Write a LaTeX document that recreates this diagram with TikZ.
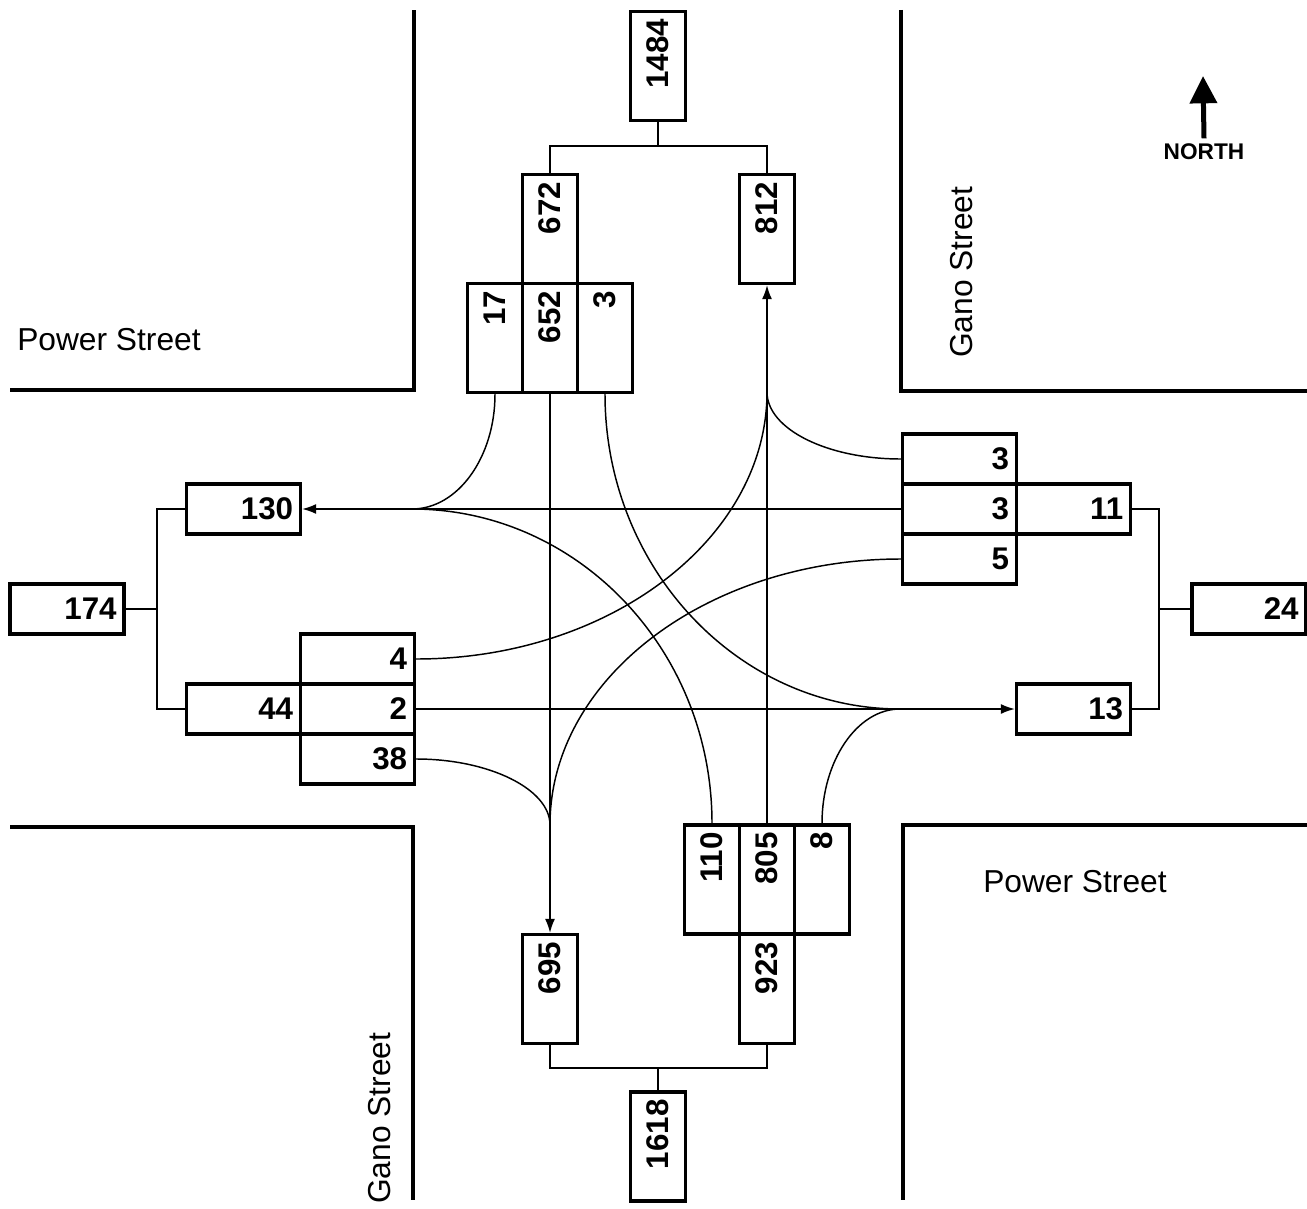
\documentclass[tikz,border=0pt]{standalone}
\usepackage{fontspec}
\setmainfont{Liberation Sans}
\usetikzlibrary{arrows.meta}
\begin{document}
\begin{tikzpicture}[x=0.75pt,y=-0.75pt,
  numfont/.style={font=\fontsize{23.5}{27}\selectfont\bfseries},
  hbox/.style={draw, line width=2.5pt, numfont, minimum width=85.5pt, minimum height=37.5pt,
    inner xsep=5.5pt, inner ysep=0pt, text width=74.5pt, align=right},
  vbox/.style={draw, line width=2.5pt, numfont, rotate=90, minimum width=81.75pt, minimum height=41.25pt,
    inner xsep=5.5pt, inner ysep=0pt, text width=70.75pt, align=right},
  flow/.style={line width=1.1pt},
  arr/.style={flow, -{Latex[length=10.5pt,width=7.5pt]}},
  link/.style={line width=1pt},
  street/.style={line width=3.2pt},
  sname/.style={font=\fontsize{23.8}{27}\selectfont, inner sep=0pt}
]
\useasboundingbox (0,0) rectangle (1307,1209);

% streets
\draw[street] (10,390) -- (414,390) -- (414,10);
\draw[street] (901,10) -- (901,391) -- (1307,391);
\draw[street] (10,827) -- (413,827) -- (413,1200);
\draw[street] (1307,825) -- (903,825) -- (903,1200);

\node[sname, anchor=base west] (pw) at (17,350) {Power Street};
\node[sname, anchor=base west] (pe) at (983,892) {Power Street};
\node[sname, rotate=90, anchor=base west] (gn) at (972,358) {Gano Street};
\node[sname, rotate=90, anchor=base west] (gs) at (390,1204) {Gano Street};

% north arrow
\node[font=\fontsize{17}{20}\selectfont\bfseries, inner sep=0pt] (north) at (1204,152) {NORTH};
\coordinate (ntip) at (1203,76);
\draw[line width=3.75pt, -{Triangle[length=20.5pt,width=20pt]}] ([yshift=4pt]north.north) -- (ntip);

% north approach
\node[vbox] (b1484) at (658,66) {1484};
\node[vbox] (b672) at (550,229) {672};
\node[vbox] (b812) at (767,229) {812};
\node[vbox] (b17) at (495,338) {17};
\node[vbox] (b652) at (550,338) {652};
\node[vbox] (bn3) at (605,338) {3};

% south approach
\node[vbox] (b110) at (712,879.5) {110};
\node[vbox] (b805) at (767,879.5) {805};
\node[vbox] (b8) at (822,879.5) {8};
\node[vbox] (b923) at (767,989) {923};
\node[vbox] (b695) at (550,989) {695};
\node[vbox] (b1618) at (658,1146.5) {1618};

% west approach
\node[hbox] (b130) at (243.5,509) {130};
\node[hbox] (b174) at (67,609) {174};
\node[hbox] (b4) at (357.5,659) {4};
\node[hbox] (b44) at (243.5,709) {44};
\node[hbox] (b2) at (357.5,709) {2};
\node[hbox] (b38) at (357.5,759) {38};

% east approach
\node[hbox] (r3a) at (959.5,459) {3};
\node[hbox] (r3b) at (959.5,509) {3};
\node[hbox] (r11) at (1073.5,509) {11};
\node[hbox] (r5) at (959.5,559) {5};
\node[hbox] (r13) at (1073.5,709) {13};
\node[hbox] (r24) at (1249,609) {24};

% brackets
\coordinate (tj) at (658,146);
\draw[link] (b1484.west) -- (tj);
\draw[link] (b672.east) |- (tj) -| (b812.east);
\coordinate (bj) at (658,1068);
\draw[link] (b695.west) |- (bj) -| (b923.west);
\draw[link] (bj) -- (b1618.east);
\coordinate (lj) at (157,609);
\draw[link] (b130.west) -| (lj) |- (b44.west);
\draw[link] (b174.east) -- (lj);
\coordinate (rj) at (1159,609);
\draw[link] (r11.east) -| (rj) |- (r13.east);
\draw[link] (rj) -- (r24.west);

% join points
\coordinate (jW) at (412,509);
\coordinate (jN) at (767,392);
\coordinate (jE) at (900,709);
\coordinate (jS) at (550,825);

% through movements
\draw[arr] (r3b.west) -- (b130.east);
\draw[arr] (b2.east) -- (r13.west);
\draw[arr] (b652.west) -- (b695.east);
\draw[arr] (b805.east) -- (b812.west);

% turning movements
\draw[flow] (b17.west) .. controls (495,457) and (458,509) .. (jW);
\draw[flow] (b110.east) .. controls (712,650) and (578,509) .. (jW);
\draw[flow] (bn3.west) .. controls (605,567) and (737,709) .. (jE);
\draw[flow] (b8.east) .. controls (822,761) and (857,709) .. (jE);
\draw[flow] (b4.east) .. controls (609,659) and (767,539) .. (jN);
\draw[flow] (r3a.west) .. controls (827,459) and (767,429) .. (jN);
\draw[flow] (b38.east) .. controls (489,759) and (550,789) .. (jS);
\draw[flow] (r5.west) .. controls (708,559) and (550,678) .. (jS);
\end{tikzpicture}
\end{document}
